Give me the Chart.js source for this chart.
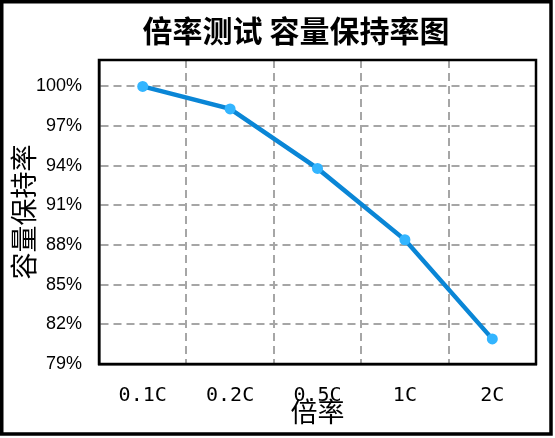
<!DOCTYPE html>
<html>
<head>
<meta charset="utf-8">
<script src="https://cdn.jsdelivr.net/npm/chart.js@4/dist/chart.umd.min.js"></script>
<style>
	html, body { margin: 0; padding: 0; background: #fff; }
	#wrap { width: 555px; height: 438px; }
</style>
</head>
<body>
<div id="wrap"><canvas id="rateChart"></canvas></div>
<script>
// data
const categories = ["0.1C", "0.2C", "0.5C", "1C", "2C"];
const retention = [100, 98.3, 93.8, 88.4, 80.9];
const yTicks = [79, 82, 85, 88, 91, 94, 97, 100];

const gridGray = "#a6a6a6";
const cjk = "'Noto Sans CJK SC', sans-serif";

// black frame round the plot and round the whole picture,
// and the main title centred a bit right of the canvas middle
const framePlugin = {
	id: "frame",
	afterLayout(chart) {
		if (chart.titleBlock) {
			chart.titleBlock.left = 56;
			chart.titleBlock.right = 536;
		}
	},
	afterDraw(chart) {
		const { ctx, chartArea: a } = chart;
		ctx.save();
		ctx.strokeStyle = "#000";
		ctx.lineWidth = 2.5;
		ctx.strokeRect(a.left, a.top, a.right - a.left, a.bottom - a.top);
		ctx.lineWidth = 3.5;
		ctx.strokeRect(1.75, 1.75, 549.25, 432.25);
		ctx.restore();
	},
};

new Chart(document.getElementById("rateChart"), {
	type: "line",
	data: {
		labels: categories,
		datasets: [
			{
				label: "容量保持率",
				data: retention,
				borderColor: "#0a86d6",
				borderWidth: 4.5,
				tension: 0,
				pointRadius: 5.5,
				pointBorderWidth: 0,
				pointBackgroundColor: "#33b5ff",
				pointBorderColor: "#33b5ff",
			},
		],
	},
	options: {
		responsive: true,
		maintainAspectRatio: false,
		animation: false,
		devicePixelRatio: 1,
		layout: { padding: { left: 0, right: 19, top: 0, bottom: 0 } },
		plugins: {
			legend: { display: false },
			tooltip: { enabled: false },
			title: {
				display: true,
				text: "倍率测试 容量保持率图",
				color: "#000",
				font: { family: cjk, size: 30, weight: "bold" },
				padding: { top: 13, bottom: 11 },
			},
		},
		scales: {
			x: {
				type: "category",
				offset: true,
				grid: { offset: true, color: gridGray, lineWidth: 2, drawTicks: false },
				border: { display: true, color: "#000", width: 2.5, dash: [8, 5] },
				ticks: {
					color: "#000",
					padding: 20,
					font: { family: "'DejaVu Sans Mono', monospace", size: 20 },
				},
				title: {
					display: true,
					text: "倍率",
					color: "#000",
					font: { family: cjk, size: 27 },
					padding: { top: 0, bottom: 10 },
				},
				afterFit(scale) {
					scale.height = 74;
				},
			},
			y: {
				min: 79,
				max: 102,
				grid: { color: gridGray, lineWidth: 2, drawTicks: false },
				border: { display: true, color: "#000", width: 2.5, dash: [8, 5] },
				afterBuildTicks(scale) {
					scale.ticks = yTicks.map((v) => ({ value: v }));
				},
				ticks: {
					color: "#000",
					padding: 17,
					font: { family: "'Liberation Sans', Arial, sans-serif", size: 18 },
					callback: (v) => v + "%",
				},
				title: {
					display: true,
					text: "容量保持率",
					color: "#000",
					font: { family: cjk, size: 27 },
					padding: { top: 7.8, bottom: 0 },
				},
				afterFit(scale) {
					scale.width = 99;
				},
			},
		},
	},
	plugins: [framePlugin],
});
</script>
</body>
</html>
